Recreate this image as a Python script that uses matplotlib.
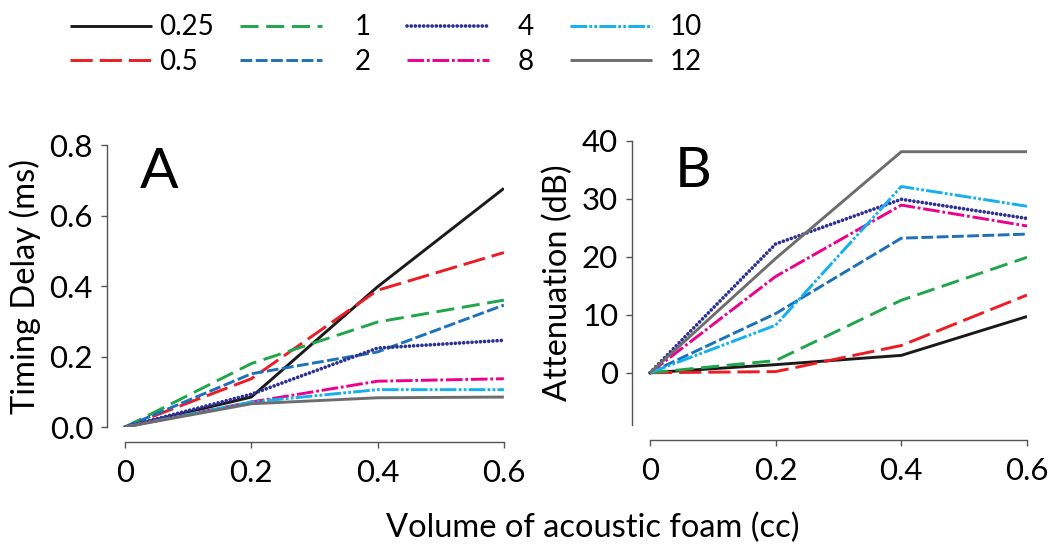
import matplotlib
matplotlib.use("Agg")
import matplotlib.pyplot as plt

plt.rcParams["font.family"] = ["Lato", "DejaVu Sans"]
plt.rcParams["lines.scale_dashes"] = False

# volume of acoustic foam (cc)
volume = [0, 0.2, 0.4, 0.6]
labels = ["0.25", "0.5", "1", "2", "4", "8", "10", "12"]

# panel A: timing delay (ms)
delay_025 = [0, 0.085, 0.398, 0.677]
delay_05 = [0, 0.137, 0.388, 0.495]
delay_1 = [0, 0.180, 0.298, 0.360]
delay_2 = [0, 0.151, 0.213, 0.346]
delay_4 = [0, 0.093, 0.224, 0.246]
delay_8 = [0, 0.071, 0.130, 0.137]
delay_10 = [0, 0.071, 0.106, 0.106]
delay_12 = [0, 0.066, 0.083, 0.085]

# panel B: attenuation (dB)
att_025 = [0, 1.4, 3.0, 9.7]
att_05 = [0, 0.2, 4.7, 13.4]
att_1 = [0, 2.1, 12.5, 19.9]
att_2 = [0, 10.2, 23.2, 23.9]
att_4 = [0, 22.2, 29.9, 26.6]
att_8 = [0, 16.6, 28.9, 25.3]
att_10 = [0, 8.2, 32.1, 28.7]
att_12 = [0, 19.7, 38.1, 38.1]

delays = [delay_025, delay_05, delay_1, delay_2, delay_4, delay_8, delay_10, delay_12]
atts = [att_025, att_05, att_1, att_2, att_4, att_8, att_10, att_12]

colors = ["#1a1a1a", "#ed1c24", "#1fa54a", "#1b72bb", "#2e3192", "#ec008c", "#12b0ef", "#6d6d6d"]
styles = [
    "-",
    (0, (16, 5)),
    (0, (13, 5.5)),
    (0, (8.5, 2.5)),
    (0, (0.01, 3.0)),
    (0, (12, 2, 2, 2)),
    (0, (12, 1.6, 2, 1.6, 2, 1.6)),
    "-",
]
caps = ["butt", "butt", "butt", "butt", "round", "butt", "butt", "butt"]
widths = [2.1, 2.1, 2.1, 2.1, 2.7, 2.1, 2.1, 2.1]

fig = plt.figure(figsize=(10.5, 5.5), dpi=100)
axA = fig.add_axes([0.1019, 0.2236, 0.378, 0.5127])
axB = fig.add_axes([0.6019, 0.2273, 0.3762, 0.5169])

tick_fs = 22.5
lab_fs = 23.5
for ax, data, ylab in [(axA, delays, "Timing Delay (ms)"), (axB, atts, "Attenuation (dB)")]:
    for vals, lab, c, ls, cap, w in zip(data, labels, colors, styles, caps, widths):
        ax.plot(volume, vals, color=c, linestyle=ls, lw=w, label=lab,
                dash_capstyle=cap, solid_capstyle="butt")
    ax.spines["top"].set_visible(False)
    ax.spines["right"].set_visible(False)
    ax.spines["bottom"].set_position(("outward", 11))
    ax.spines["bottom"].set_bounds(0, 0.6)
    for s in ("left", "bottom"):
        ax.spines[s].set_color("#555555")
        ax.spines[s].set_linewidth(1.0)
    ax.set_xlim(-0.0286, 0.6)
    ax.set_xticks(volume)
    ax.set_xticklabels(["0", "0.2", "0.4", "0.6"])
    ax.tick_params(labelsize=tick_fs, length=4, width=1, color="#555555")
    ax.tick_params(axis="x", pad=8)
    ax.tick_params(axis="y", pad=6)
    ax.set_ylabel(ylab, fontsize=lab_fs, labelpad=6)

axA.text(0.083, 0.847, "A", transform=axA.transAxes, fontsize=41, va="baseline")
axB.text(0.109, 0.837, "B", transform=axB.transAxes, fontsize=41, va="baseline")

axA.set_ylim(0, 0.8)
axA.spines["left"].set_bounds(0, 0.8)
axA.set_yticks([0, 0.2, 0.4, 0.6, 0.8])
axA.set_yticklabels(["0.0", "0.2", "0.4", "0.6", "0.8"])

axB.set_ylim(-9, 40)
axB.spines["left"].set_bounds(-9, 40)
axB.set_yticks([0, 10, 20, 30, 40])

fig.text(0.565, 0.0236, "Volume of acoustic foam (cc)", fontsize=lab_fs, ha="center", va="baseline")

# legend: four two-row columns along the top
handles, labs = axA.get_legend_handles_labels()
col_x = [70, 240, 407, 570]
col_pad = [0.25, 1.19, 1.04, 0.65]
for i in range(4):
    leg = fig.legend(handles[2 * i:2 * i + 2], labs[2 * i:2 * i + 2], loc="center left",
                     bbox_to_anchor=(col_x[i] / 1050, 0.919), frameon=False, fontsize=20,
                     handlelength=2.95, handletextpad=col_pad[i], labelspacing=0.3,
                     borderpad=0, borderaxespad=0)

fig.savefig("out.png", dpi=100)
